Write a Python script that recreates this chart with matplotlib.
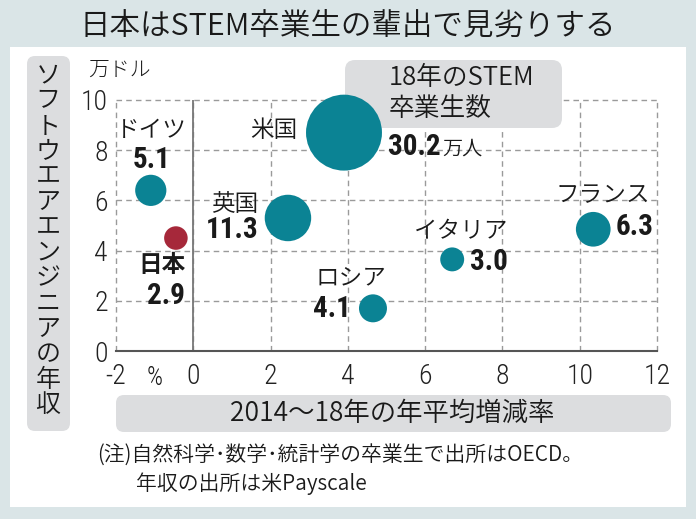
import matplotlib
matplotlib.use("Agg")
import matplotlib.pyplot as plt
from matplotlib.patches import FancyBboxPatch

plt.rcParams['font.family'] = ['Noto Sans CJK JP', 'DejaVu Sans']

# data
countries = ['ドイツ', '日本', '米国', '英国', 'ロシア', 'イタリア', 'フランス']
growth = [-1.1, -0.45, 3.9, 2.45, 4.65, 6.7, 10.35]      # 2014-18 avg growth (%)
salary = [6.4, 4.5, 8.7, 5.3, 1.7, 3.65, 4.85]           # engineer salary (10k USD)
grads = [5.1, 2.9, 30.2, 11.3, 4.1, 3.0, 6.3]            # STEM graduates 2018 (10k)
grad_labels = ['5.1', '2.9', '30.2', '11.3', '4.1', '3.0', '6.3']
x_ticks = [-2, 0, 2, 4, 6, 8, 10, 12]
y_ticks = [0, 2, 4, 6, 8, 10]

teal = '#0b8394'
red = '#a6283a'
ink = '#1a1a1a'
colors = [red if c == '日本' else teal for c in countries]
num_font = ['Roboto Condensed', 'DejaVu Sans']

W, H = 696, 519
fig = plt.figure(figsize=(W / 100, H / 100), dpi=100)
fig.patch.set_facecolor('#dae5e7')


def px_box(x0, y0, x1, y1, color, r=0.0, z=0):
    # box from pixel coords (top-left origin), drawn in inches
    p = FancyBboxPatch((x0 / 100, (H - y1) / 100), (x1 - x0) / 100, (y1 - y0) / 100,
                       boxstyle=f"round,pad=0,rounding_size={r}",
                       transform=fig.dpi_scale_trans, facecolor=color,
                       edgecolor='none', zorder=z)
    fig.patches.append(p)


px_box(10, 47, 686, 507, 'white')
px_box(27, 56, 70, 431, '#dcdddf', r=0.08, z=1)
px_box(116, 395, 671, 432, '#dcdddf', r=0.08, z=1)

fig.text(348 / W, 1 - 26 / H, '日本はSTEM卒業生の輩出で見劣りする', ha='center', va='center',
         fontsize=22, color=ink, fontweight=350)

ylab = 'ソフトウエアエンジニアの年収'
for i, ch in enumerate(ylab):
    fig.text(48 / W, 1 - (75 + i * 25.4) / H, ch, ha='center', va='center',
             fontsize=18, color=ink, fontweight=350)

fig.text(392 / W, 1 - 413 / H, '2014～18年の年平均増減率', ha='center', va='center',
         fontsize=19, color=ink, fontweight=350)

fig.text(88 / W, 1 - 70 / H, '万ドル', ha='left', va='center', fontsize=15,
         color=ink, fontweight=300)
fig.text(155 / W, 1 - 378 / H, '%', ha='center', va='center', fontsize=18,
         color=ink, family=num_font, fontweight=300)

fig.text(97 / W, 1 - 456 / H, '(注)自然科学･数学･統計学の卒業生で出所はOECD。', ha='left',
         va='center', fontsize=15, color=ink, fontweight=350)
fig.text(136 / W, 1 - 484 / H, '年収の出所は米Payscale', ha='left', va='center',
         fontsize=15, color=ink, fontweight=350)

ax = fig.add_axes([116 / W, (H - 351) / H, (657 - 116) / W, (351 - 100) / H])
ax.set_facecolor('none')
ax.set_zorder(2)
ax.set_xlim(-2, 12)
ax.set_ylim(0, 10)
ax.set_xticks(x_ticks)
ax.set_yticks(y_ticks)
ax.set_xticklabels([str(t) for t in x_ticks], family=num_font, fontsize=20,
                   color='#222222', fontweight=300)
ax.set_yticklabels([str(t) for t in y_ticks], family=num_font, fontsize=20,
                   color='#222222', fontweight=300)
ax.tick_params(length=0)
ax.tick_params(axis='x', pad=9)
ax.tick_params(axis='y', pad=6)
for s in ['top', 'right', 'left']:
    ax.spines[s].set_visible(False)
ax.spines['bottom'].set_color('#555555')
ax.spines['bottom'].set_linewidth(1.5)
ax.spines['bottom'].set_zorder(3)

for t in x_ticks:
    ax.axvline(t, color='#9a9a9a', lw=1, ls=(0, (4, 3)), zorder=0, clip_on=False)
for t in y_ticks[1:]:
    ax.axhline(t, color='#9a9a9a', lw=1, ls=(0, (4, 3)), zorder=0, clip_on=False)
ax.axvline(0, color='#777777', lw=1.3, zorder=1)

# size key box
box = FancyBboxPatch((345 / 100, (H - 128) / 100), (562 - 345) / 100, (128 - 60) / 100,
                     boxstyle="round,pad=0,rounding_size=0.1",
                     facecolor='#dcdddf', edgecolor='none', zorder=1)
ax.add_artist(box)
box.set_transform(fig.dpi_scale_trans)
box.set_clip_on(False)
ax.text(389 / W, 1 - 78 / H, '18年のSTEM', transform=fig.transFigure, ha='left',
        va='center', fontsize=18.5, color=ink, fontweight=350, zorder=5)
ax.text(389 / W, 1 - 109 / H, '卒業生数', transform=fig.transFigure, ha='left',
        va='center', fontsize=18.5, color=ink, fontweight=350, zorder=5)

ax.scatter(growth, salary, s=[g * 99 for g in grads], c=colors, edgecolors='none',
           zorder=4, clip_on=False)

# labels: (name x, name y, name ha, number x, number y, number ha)
lab_pos = {
    'ドイツ': (-1.09, 8.80, 'center', -1.09, 7.61, 'center'),
    '日本': (-0.21, 3.43, 'right', -0.21, 2.19, 'right'),
    '米国': (2.69, 8.80, 'right', 5.05, 8.13, 'left'),
    '英国': (1.68, 5.82, 'right', 1.68, 4.82, 'right'),
    'ロシア': (5.0, 2.92, 'right', 4.07, 1.67, 'right'),
    'イタリア': (8.15, 4.74, 'right', 7.17, 3.55, 'left'),
    'フランス': (11.83, 6.18, 'right', 10.92, 4.94, 'left'),
}
for c, g in zip(countries, grad_labels):
    nx, ny, nha, vx, vy, vha = lab_pos[c]
    ax.text(nx, ny, c, ha=nha, va='center', fontsize=17,
            fontweight='bold' if c == '日本' else 350, color=ink, zorder=5)
    t = ax.text(vx, vy, g, ha=vha, va='center', fontsize=21, fontweight='bold',
                family=num_font, color=ink, zorder=5)
    if c == '米国':
        ax.annotate('万人', xy=(1, 0), xycoords=t, xytext=(1, 1), textcoords='offset points',
                    ha='left', va='bottom', fontsize=14.5, color=ink, fontweight=350, zorder=5)

fig.savefig('out.png', dpi=100, facecolor=fig.get_facecolor())
